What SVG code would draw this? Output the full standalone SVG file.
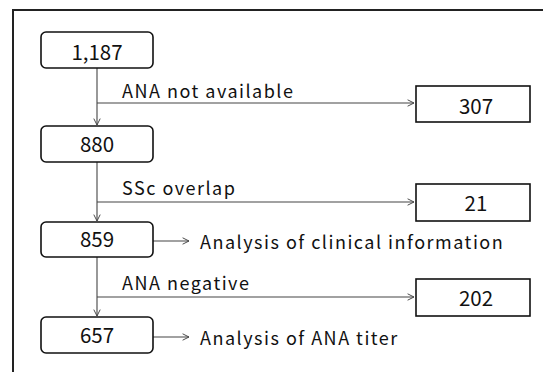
<svg xmlns="http://www.w3.org/2000/svg" width="543" height="372" viewBox="0 0 543 372">
<defs>
<style>
text{font-family:"Noto Sans CJK JP","Noto Sans",sans-serif;font-size:18px;fill:#111;letter-spacing:1.5px}
.num{text-anchor:middle;font-size:20.5px;letter-spacing:0}
.box{fill:#fff;stroke:#111;stroke-width:1.6}
.ln{fill:none;stroke:#444;stroke-width:1.1}
</style>
<marker id="arr" viewBox="0 0 10 10" refX="9" refY="5" markerWidth="8" markerHeight="8" markerUnits="userSpaceOnUse" orient="auto">
<path d="M1,1 L9,5 L1,9" fill="none" stroke="#444" stroke-width="1.2"/>
</marker>
</defs>
<rect width="543" height="372" fill="#fff"/>
<path d="M13,372 V10 H543" fill="none" stroke="#222" stroke-width="2"/>
<g id="connectors">
<path class="ln" d="M97,68 V125" marker-end="url(#arr)"/>
<path class="ln" d="M97,103 H414" marker-end="url(#arr)"/>
<path class="ln" d="M97,162 V221" marker-end="url(#arr)"/>
<path class="ln" d="M97,202 H414" marker-end="url(#arr)"/>
<path class="ln" d="M97,257 V316" marker-end="url(#arr)"/>
<path class="ln" d="M97,297 H414" marker-end="url(#arr)"/>
<path class="ln" d="M153,241 H189" marker-end="url(#arr)"/>
<path class="ln" d="M153,337 H189" marker-end="url(#arr)"/>
<text x="122" y="98">ANA not available</text>
<text x="122" y="195">SSc overlap</text>
<text x="122" y="290">ANA negative</text>
</g>
<g id="n1187"><rect class="box" x="41" y="32" width="112" height="36" rx="5"/><text class="num" x="97" y="60">1,187</text></g>
<g id="n880"><rect class="box" x="41" y="126" width="112" height="36" rx="5"/><text class="num" x="97" y="151.5">880</text></g>
<g id="n859"><rect class="box" x="41" y="222" width="112" height="35" rx="5"/><text class="num" x="97" y="247">859</text></g>
<g id="n657"><rect class="box" x="41" y="317" width="112" height="36" rx="5"/><text class="num" x="97" y="343">657</text></g>
<g id="n307"><rect class="box" x="416" y="86" width="114" height="36"/><text class="num" x="476" y="114">307</text></g>
<g id="n21"><rect class="box" x="416" y="184" width="114" height="37"/><text class="num" x="476" y="211">21</text></g>
<g id="n202"><rect class="box" x="416" y="279" width="114" height="37"/><text class="num" x="476" y="306">202</text></g>
<g id="clinical"><text x="200" y="249">Analysis of clinical information</text></g>
<g id="titer"><text x="200" y="345">Analysis of ANA titer</text></g>
</svg>
